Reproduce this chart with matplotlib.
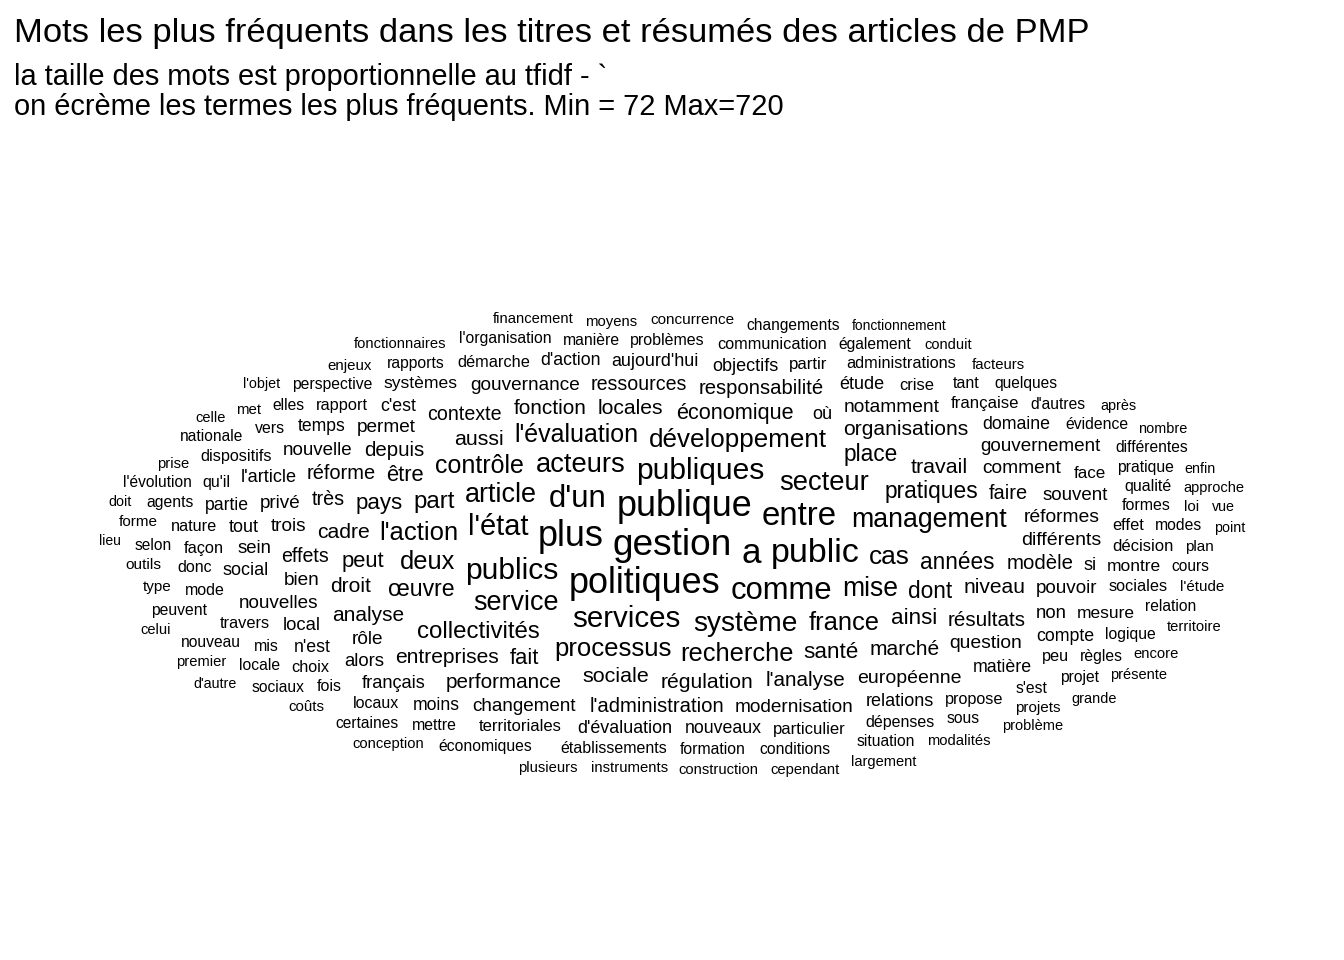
import numpy as np
import matplotlib.pyplot as plt
from matplotlib.textpath import TextPath
from matplotlib.font_manager import FontProperties

titre = "Mots les plus fréquents dans les titres et résumés des articles de PMP"
sous_titre = ["la taille des mots est proportionnelle au tfidf - `",
              "on écrème les termes les plus fréquents. Min = 72 Max=720"]

# mots et taille (hauteur de police en pixels)
mots = [
    "gestion", "publique", "politiques", "plus", "a", "public", "entre", "comme", "d'un",
    "publics", "publiques", "services", "l'état", "système", "secteur", "acteurs", "article",
    "service", "management", "mise", "cas", "développement", "processus", "l'action", "france",
    "recherche", "deux", "l'évaluation", "contrôle", "collectivités", "part", "œuvre", "années",
    "pratiques", "dont", "place", "santé", "ainsi", "pays", "peut", "fait", "être", "économique",
    "sociale", "travail", "aussi", "cadre", "régulation", "locales", "marché", "niveau", "droit",
    "entreprises", "organisations", "analyse", "fonction", "l'analyse", "performance", "résultats",
    "depuis", "modèle", "responsabilité", "l'administration", "faire", "réforme", "très", "effets",
    "contexte", "ressources", "européenne", "différents", "réformes", "question", "comment",
    "notamment", "modernisation", "gouvernance", "bien", "trois", "rôle", "permet", "pouvoir",
    "nouvelles", "privé", "changement", "gouvernement", "souvent", "nouvelle", "non", "sein",
    "alors", "local", "français", "l'article", "social", "étude", "tout", "où", "objectifs",
    "relations", "si", "aujourd'hui", "d'évaluation", "nouveaux", "n'est", "c'est", "matière",
    "compte", "domaine", "d'action", "temps", "partie", "moins", "systèmes", "mesure", "montre",
    "face", "française", "partir", "crise", "territoriales", "particulier", "décision", "travers",
    "effet", "façon", "démarche", "rapport", "choix", "sociales", "propose", "dispositifs",
    "administrations", "communication", "peu", "nature", "établissements", "dépenses", "formes",
    "donc", "mode", "mis", "qu'il", "locaux", "problèmes", "qualité", "tant", "fois", "vers",
    "mettre", "formation", "manière", "rapports", "conditions", "pratique", "s'est", "perspective",
    "logique", "économiques", "règles", "évidence", "modes", "locale", "l'organisation", "agents",
    "peuvent", "nouveau", "d'autres", "sous", "elles", "relation", "situation", "également",
    "sociaux", "projet", "différentes", "quelques", "selon", "nationale", "cours", "certaines",
    "changements", "l'évolution", "outils", "type", "plan", "forme", "projets", "concurrence",
    "l'étude", "loi", "coûts", "enjeux", "met", "instruments", "facteurs", "moyens",
    "construction", "prise", "premier", "fonctionnaires", "conception", "plusieurs", "encore",
    "modalités", "cependant", "territoire", "financement", "approche", "celle", "conduit",
    "largement", "présente", "problème", "celui", "grande", "nombre", "après", "point", "vue",
    "enfin", "l'objet", "doit", "d'autre", "lieu", "fonctionnement",
]
tailles = [
    37, 36, 36, 36, 35, 34, 33, 31, 31,
    30, 30, 29.5, 29, 28, 27.4, 27.4, 27,
    27, 26.6, 26.5, 26.3, 26, 25.7, 25.6, 25.5,
    25.4, 25.4, 25, 25, 24, 24, 23, 22.6,
    22.7, 22.6, 22.6, 22.5, 22.4, 22.3, 22, 22, 22, 21.7,
    21.5, 21.4, 21.4, 21.2, 21.2, 21.2, 21, 21, 21,
    21, 21, 20.9, 20.8, 20.7, 20.7, 20.6,
    20.4, 20.4, 20.3, 20.3, 20, 20, 19.8, 19.6,
    19.6, 19.6, 19.5, 19.5, 19.3, 19.3, 19.2,
    19.2, 19, 19, 19, 19, 19, 19, 18.9,
    18.9, 18.9, 18.9, 18.9, 18.8, 18.8, 18.6, 18.5,
    18.5, 18.5, 18.3, 18.2, 18, 18, 18, 18, 18,
    18, 18, 17.9, 17.9, 17.8, 17.8, 17.8, 17.7,
    17.7, 17.7, 17.6, 17.6, 17.6, 17.6, 17.5, 17.4, 17.4,
    17, 16.8, 16.7, 16.5, 16.6, 16.6, 16.6, 16.4,
    16.4, 16.4, 16.4, 16.4, 16.3, 16.3, 16.3, 16.2,
    16.2, 16.2, 16.2, 16.2, 16, 16, 16,
    16, 16, 16, 16, 16, 16, 16, 16, 16, 15.9,
    15.9, 15.8, 15.8, 15.8, 15.8, 15.8, 15.8, 15.8,
    15.8, 15.8, 15.8, 15.7, 15.7, 15.7, 15.7, 15.7,
    15.7, 15.6, 15.6, 15.6, 15.6, 15.6, 15.6, 15.6,
    15.6, 15.6, 15.6, 15.5, 15.5, 15.5, 15.5, 15.5,
    15.5, 15.5, 15.4, 15.3, 15.3, 15.3, 15.3, 15.3,
    15.1, 15, 15, 15, 15, 14.9, 14.9, 14.9,
    14.8, 14.8, 14.8, 14.8, 14.7, 14.7, 14.7,
    14.7, 14.7, 14.7, 14.7, 14.6, 14.6, 14.6,
    14.6, 14.6, 14.6, 14.6, 14.5, 14.5, 14.4, 14.3, 14.3,
    14.3, 14.3, 14.3, 14.2, 14, 13.8,
]

police = FontProperties(family="Liberation Sans")

fig = plt.figure(figsize=(13.44, 9.6), dpi=100, facecolor="white")
fig.text(14 / 1344, 1 - 42 / 960, titre, fontsize=24.8, ha="left", va="baseline",
         family="Liberation Sans")
fig.text(14 / 1344, 1 - 85 / 960, sous_titre[0], fontsize=20.9, ha="left", va="baseline",
         family="Liberation Sans")
fig.text(14 / 1344, 1 - 115 / 960, sous_titre[1], fontsize=20.9, ha="left", va="baseline",
         family="Liberation Sans")

ax = fig.add_axes([0, 0, 1, 830 / 960])
ax.set_xlim(-672, 672)
ax.set_ylim(-415, 415)
ax.axis("off")

# spirale elliptique (pas ~constant le long de la courbe)
n = np.arange(120000)
theta = np.sqrt(6.0 * n)
sx = theta * np.cos(theta)
sy = 0.41 * theta * np.sin(theta)

ordre = np.argsort(-np.array(tailles), kind="stable")
boites = np.empty((0, 4))
for i in ordre:
    mot, px = mots[i], tailles[i]
    ext = TextPath((0, 0), mot, size=px, prop=police).get_extents()
    bas = min(ext.y0, -0.212 * px)
    haut = max(ext.y1, 0.74 * px)
    w, h = ext.width + 12, haut - bas + 4
    j = 0
    for debut in range(0, len(n), 2000):
        cx = sx[debut:debut + 2000][:, None]
        cy = sy[debut:debut + 2000][:, None]
        choc = (np.abs(cx - boites[:, 0]) < (w + boites[:, 2]) / 2) & \
               (np.abs(cy - boites[:, 1]) < (h + boites[:, 3]) / 2)
        libre = ~choc.any(axis=1)
        if libre.any():
            j = debut + np.argmax(libre)
            break
    x, y = sx[j], sy[j]
    boites = np.vstack([boites, [x, y, w, h]])
    ax.text(x, y - (bas + haut) / 2, mot, fontsize=px * 0.72, ha="center",
            va="baseline", family="Liberation Sans", color="black")

fig.savefig("out.png", dpi=100, facecolor="white")
